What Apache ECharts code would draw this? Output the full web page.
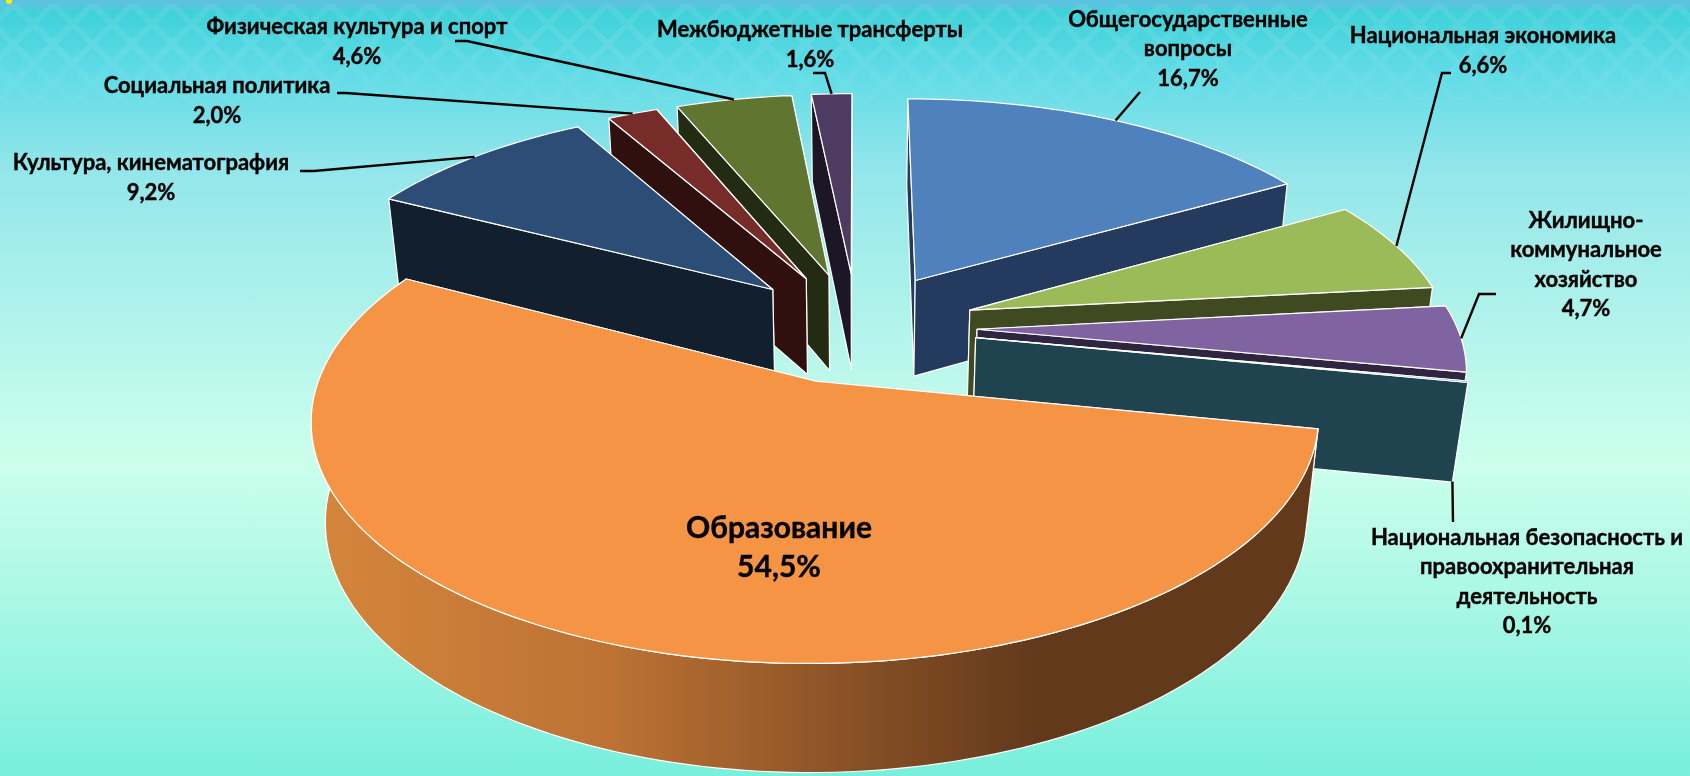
<!DOCTYPE html>
<html>
<head>
<meta charset="utf-8">
<title>Расходы бюджета</title>
<style>
  html, body { margin: 0; height: 100%; overflow: hidden; }
  body {
    background: linear-gradient(180deg, #5cc3de 0, #5cc3de 4px, #3fd1d9 12px, #5fdbe6 70px, #93e6ea 170px, #ccffec 460px, #a4f7e4 620px, #78efdc 776px);
  }
  #ornament {
    position: absolute; left: 0; top: 4px; width: 1690px; height: 110px; opacity: .08;
    background:
      repeating-linear-gradient(45deg, #fff 0 6px, transparent 6px 28px),
      repeating-linear-gradient(-45deg, #fff 0 6px, transparent 6px 28px);
    -webkit-mask-image: linear-gradient(180deg, #000 40%, transparent);
  }
  #spot { position: absolute; left: 6px; top: 0; width: 6px; height: 4px; background: #ffee00; border-radius: 0 0 3px 3px; }
  #pieChart { position: absolute; left: 0; top: 0; width: 1690px; height: 776px; }
</style>
</head>
<body>
<div id="ornament"></div>
<div id="spot"></div>
<div id="pieChart"></div>
<script src="https://cdn.jsdelivr.net/npm/echarts@6/dist/echarts.min.js"></script>
<script>
// clockwise from 12 o'clock
const names = [
  'Общегосударственные\nвопросы',
  'Национальная экономика',
  'Жилищно-\nкоммунальное\nхозяйство',
  'Национальная безопасность и\nправоохранительная\nдеятельность',
  'Образование',
  'Культура, кинематография',
  'Социальная политика',
  'Физическая культура и спорт',
  'Межбюджетные трансферты'
]
const shares = [16.7, 6.6, 4.7, 0.1, 54.5, 9.2, 2.0, 4.6, 1.6]

const topColors = ['#4f81bd', '#9bbb59', '#8064a2', '#4bacc6', '#f59445', '#2c4d75', '#772c2a', '#5f7530', '#4d3b62']
const wallColors = ['#243a5e', '#404a20', '#302540', '#1f444f', '#62391b', '#111f2e', '#2f100f', '#232c12', '#1d1625']
const drawOrder = [4, 5, 6, 7, 8, 3, 2, 1, 0] // back slices first, orange last

// label centres
const labelX = [1188, 1483, 1586, 1527, 779, 151, 217, 357, 810]
const labelY = [49, 51, 265, 582, 548, 178, 101, 42, 45]
// leader line points from label to slice rim
const leaderPoints = [
  [[1140, 92]],
  [[1451, 73], [1442, 73]],
  [[1496, 294], [1479, 294]],
  [[1453, 522]],
  null,
  [[300, 171], [314, 171]],
  [[337, 93], [346, 93]],
  [[455, 41], [467, 41]],
  [[813, 73], [825, 73]]
]
const leaderOnBottom = [false, false, false, true, false, false, false, false, false]

const cx = 857
const cy = 327
const radius = 480
const explode = 120
const depth = 100
const tilt = 0.462
const zoomBack = 0.15  // perspective along the disk
const zoomDown = 0.025 // perspective along the wall height

const total = shares.reduce((a, b) => a + b, 0)
const rad = (d) => d * Math.PI / 180

function project(x, y, z) {
  const s = 1 / (1 + zoomBack * y / radius + zoomDown * z / depth)
  return [cx + x * s, cy + (-y * tilt + z) * s]
}

// point of a slice: r along angle, shifted out along the slice middle
function slicePoint(mid, angle, r, z) {
  const x = Math.sin(rad(mid)) * explode + Math.sin(rad(angle)) * r
  const y = Math.cos(rad(mid)) * explode + Math.cos(rad(angle)) * r
  return project(x, y, z)
}

function sliceAngles(idx) {
  let before = 0
  for (let i = 0; i < idx; i++) before += shares[i]
  const a0 = before / total * 360
  const a1 = (before + shares[idx]) / total * 360
  return [a0, a1, (a0 + a1) / 2]
}

function arc(a0, a1) {
  const list = []
  const n = Math.max(2, Math.ceil((a1 - a0) / 1.5))
  for (let i = 0; i <= n; i++) list.push(a0 + (a1 - a0) * i / n)
  return list
}

function renderSlice(params, api) {
  const idx = params.dataIndex
  const [a0, a1, mid] = sliceAngles(idx)
  const order = drawOrder[idx] * 10
  const edge = { stroke: '#ffffff', lineWidth: 1.2, lineJoin: 'round' }
  const poly = (points, fill, z2) => ({ type: 'polygon', z2, shape: { points }, style: { fill, ...edge } })
  const wallPts = (a) => [
    slicePoint(mid, a, 0, 0), slicePoint(mid, a, radius, 0),
    slicePoint(mid, a, radius, depth), slicePoint(mid, a, 0, depth)
  ]
  const children = []

  // flat walls: the ones turned away go under the rim, the others over it
  const startFront = Math.cos(rad(a0 - 90)) < -0.001
  const endFront = Math.cos(rad(a1 + 90)) < -0.001
  children.push(poly(wallPts(a0), wallColors[idx], order + (startFront ? 2 : 0)))
  children.push(poly(wallPts(a1), wallColors[idx], order + (endFront ? 2 : 0)))

  // rim, only the part turned to the viewer
  if (a0 < 270 && a1 > 90) {
    const rimAngles = arc(Math.max(a0, 90), a1)
    const upper = rimAngles.map((a) => slicePoint(mid, a, radius, 0))
    const lower = rimAngles.map((a) => slicePoint(mid, a, radius, depth)).reverse()
    const fill = idx === 4
      ? { type: 'linear', x: 0, y: 0, x2: 1, y2: 0, colorStops: [
        { offset: 0, color: '#d5863b' }, { offset: 0.3, color: '#bd7234' }, { offset: 0.52, color: '#8c5327' },
        { offset: 0.72, color: '#62391b' }, { offset: 1, color: '#62391b' }] }
      : wallColors[idx]
    children.push(poly(upper.concat(lower), fill, order + 1))
  }

  // top face
  const top = [slicePoint(mid, a0, 0, 0)].concat(arc(a0, a1).map((a) => slicePoint(mid, a, radius, 0)))
  children.push(poly(top, topColors[idx], order + 3))
  return { type: 'group', children }
}

function renderLabel(params, api) {
  const idx = params.dataIndex
  const [, , mid] = sliceAngles(idx)
  const children = []
  if (leaderPoints[idx]) {
    const end = slicePoint(mid, mid, radius, leaderOnBottom[idx] ? depth : 0)
    children.push({
      type: 'polyline', z2: 200,
      shape: { points: leaderPoints[idx].concat([end]) },
      style: { fill: null, stroke: '#000000', lineWidth: 2.4 }
    })
  }
  const big = idx === 4
  children.push({
    type: 'text', z2: 210,
    style: {
      text: `${names[idx]}\n${api.value(0).toFixed(1).replace('.', ',')}%`,
      x: labelX[idx], y: labelY[idx], align: 'center', verticalAlign: 'middle',
      font: `bold ${big ? 30 : 22}px Lato, "Open Sans", sans-serif`,
      lineHeight: big ? 39 : 29.5, fill: '#000000',
      stroke: '#000000', lineWidth: 0.4
    }
  })
  return { type: 'group', children }
}

const chart = echarts.init(document.getElementById('pieChart'))
chart.setOption({
  animation: false,
  backgroundColor: 'transparent',
  series: [
    { type: 'custom', coordinateSystem: 'none', renderItem: renderSlice, data: shares.map((v) => [v]), silent: true, z: 2 },
    { type: 'custom', coordinateSystem: 'none', renderItem: renderLabel, data: shares.map((v) => [v]), silent: true, z: 3 }
  ]
})
</script>
</body>
</html>
